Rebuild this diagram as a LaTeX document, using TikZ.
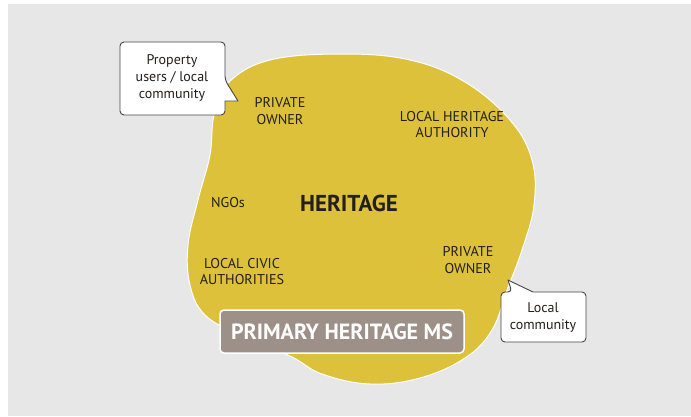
\documentclass[tikz,border=0pt]{standalone}
\usepackage{fontspec}
\setmainfont{PT Sans}
\definecolor{bggray}{RGB}{230,231,230}
\definecolor{blobyellow}{RGB}{221,193,59}
\definecolor{taupe}{RGB}{157,144,137}
\definecolor{inkdark}{RGB}{35,31,28}
\definecolor{calloutline}{RGB}{70,70,70}
\tikzset{
  lbl/.style={text=inkdark, font=\fontsize{14.2}{16.8}\selectfont, align=center, inner sep=0pt},
  calltext/.style={text=inkdark, font=\fontsize{14}{17}\selectfont, align=center, inner sep=0pt},
  callout/.style={fill=white, draw=calloutline, line width=0.9pt, line join=round},
}
\begin{document}
\begin{tikzpicture}[x=1pt,y=-1pt]
\useasboundingbox (0,0) rectangle (691,416);
\fill[white] (0,0) rectangle (691,416);
\fill[bggray] (8,4) rectangle (691,416);
% blob
\draw[fill=blobyellow, draw=white, line width=1pt]
  plot[smooth cycle, tension=0.65] coordinates {
  (343,54) (410,60) (465,82) (510,120) (532,160) (534,205) (522,250)
  (507,290) (492,330) (465,358) (420,378) (370,384) (322,374) (290,356)
  (240,335) (205,315) (190,285) (188,245) (198,200) (210,155) (214,115)
  (228,83) (270,60)};
% labels
\node[lbl] (po1) at (280,111) {PRIVATE\\OWNER};
\node[lbl] (lha) at (452,124.5) {LOCAL HERITAGE\\AUTHORITY};
\node[lbl] (ngo) at (228,203) {NGOs};
\node[text=inkdark, font=\bfseries\fontsize{23}{26}\selectfont, inner sep=0pt] (her) at (349,203) {HERITAGE};
\node[lbl] (lca) at (242,271.5) {LOCAL CIVIC\\AUTHORITIES};
\node[lbl] (po2) at (468,260) {PRIVATE\\OWNER};
% primary box
\node[fill=taupe, draw=white, line width=1.5pt, rounded corners=4pt,
      minimum width=244pt, minimum height=43pt, inner sep=0pt,
      text=white, font=\bfseries\fontsize{22}{25}\selectfont] (pms) at (342,331.5) {PRIMARY HERITAGE MS};
% callout 1
\draw[callout] [rounded corners=4pt] (120,42) -- (225,42) -- (225,80) [sharp corners] -- (238,101) -- (225,101) [rounded corners=4pt] -- (225,115) -- (120,115) -- cycle;
\node[calltext] (c1) at (172,78) {Property\\users / local\\community};
% callout 2
\draw[callout] [rounded corners=4pt] (501,292) -- (512,292) [sharp corners] -- (508,280) -- (533,292) [rounded corners=4pt] -- (586,292) -- (586,342) -- (501,342) -- cycle;
\node[calltext] (c2) at (543,317.5) {Local\\community};
\end{tikzpicture}
\end{document}
